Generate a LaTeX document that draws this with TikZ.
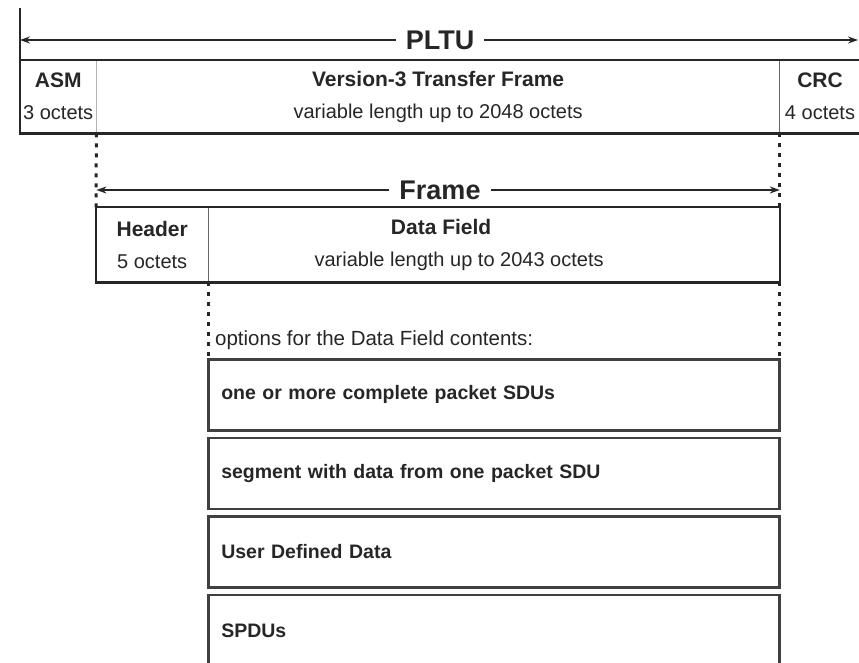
\documentclass[tikz,border=0pt]{standalone}
\usepackage{fontspec}
\setmainfont{Liberation Sans}
\usetikzlibrary{positioning,arrows.meta}

\newcommand{\fieldname}[1]{{\fontsize{21}{24}\selectfont\bfseries #1}}

\begin{document}
\begin{tikzpicture}[
	x=1pt, y=-1pt,
	node distance=5pt,
	font=\fontsize{20}{24}\selectfont,
	field/.style={rectangle, inner sep=0pt, minimum height=73pt, align=center, text=black!85},
	boxline/.style={draw=black!85, line width=2.5pt},
	divider/.style={draw=black!60, line width=1.2pt},
	option/.style={rectangle, draw=black!75, line width=2.6pt, inner xsep=13pt, inner ysep=0pt,
		text width=545pt, minimum height=71pt, align=left, text=black!85,
		font=\fontsize{19.5}{22}\selectfont\bfseries},
	heading/.style={inner xsep=10pt, inner ysep=2pt, text=black!85, font=\fontsize{27}{30}\selectfont\bfseries},
	measure/.style={draw=black!85, line width=1.5pt, -{Stealth[length=10pt,width=7pt]}},
	dotline/.style={draw=black!85, line width=3pt, dash pattern=on 4pt off 6pt},
	]
	\clip (0,0) rectangle (859,662);

	% PLTU
	\node[field, minimum width=76pt, anchor=north west] (asm) at (20,60) {\fieldname{ASM}\\[8pt]3 octets};
	\node[field, minimum width=683pt, right=0pt of asm] (tf) {\fieldname{Version-3 Transfer Frame}\\[8pt]variable length up to 2048 octets};
	\node[field, minimum width=80pt, right=0pt of tf] (crc) {\fieldname{CRC}\\[8pt]4 octets};
	\draw[divider, draw=black!30] (asm.north east) -- (asm.south east);
	\draw[divider] (crc.north west) -- (crc.south west);
	\draw[boxline] (asm.north west) rectangle (crc.south east);

	\coordinate (tick) at (20,8);
	\coordinate (pl) at (20,40);
	\coordinate (pr) at (858,40);
	\draw[line width=1.2pt, black!85] (tick) -- (asm.north west);
	\node[heading] (pltu) at (440,40) {PLTU};
	\draw[measure] (pltu.west) -- (pl);
	\draw[measure] (pltu.east) -- (pr);

	% Frame
	\node[field, minimum width=112pt, minimum height=75pt, anchor=north west] (hdr) at (96,207) {\fieldname{Header}\\[8pt]5 octets};
	\node[field, minimum width=571pt, minimum height=75pt, right=0pt of hdr] (df) {\fieldname{Data Field}\hspace*{106pt}\\[8pt]variable length up to 2043 octets\hspace*{70pt}};
	\draw[divider] (hdr.north east) -- (hdr.south east);
	\draw[boxline] (hdr.north west) rectangle (df.south east);

	\node[heading] (frm) at (440,190) {Frame};
	\draw[measure] (frm.west) -- (asm.south east |- frm);
	\draw[measure] (frm.east) -- (crc.south west |- frm);

	\draw[dotline] (asm.south east) -- (hdr.north west);
	\draw[dotline] (crc.south west) -- (df.north east);

	% Data Field contents
	\node[anchor=west, inner sep=0pt, text=black!85, font=\fontsize{20.5}{24}\selectfont] (opts) at (215,340) {options for the Data Field contents:};
	\node[option, anchor=north west] (o1) at (207,358) {one or more complete packet SDUs};
	\node[option, below=of o1] (o2) {segment with data from one packet SDU};
	\node[option, below=of o2] (o3) {User Defined Data};
	\node[option, below=of o3] (o4) {SPDUs};

	\draw[dotline] (hdr.south east) -- (hdr.south east |- o1.north);
	\draw[dotline] (df.south east) -- (df.south east |- o1.north);
\end{tikzpicture}
\end{document}
